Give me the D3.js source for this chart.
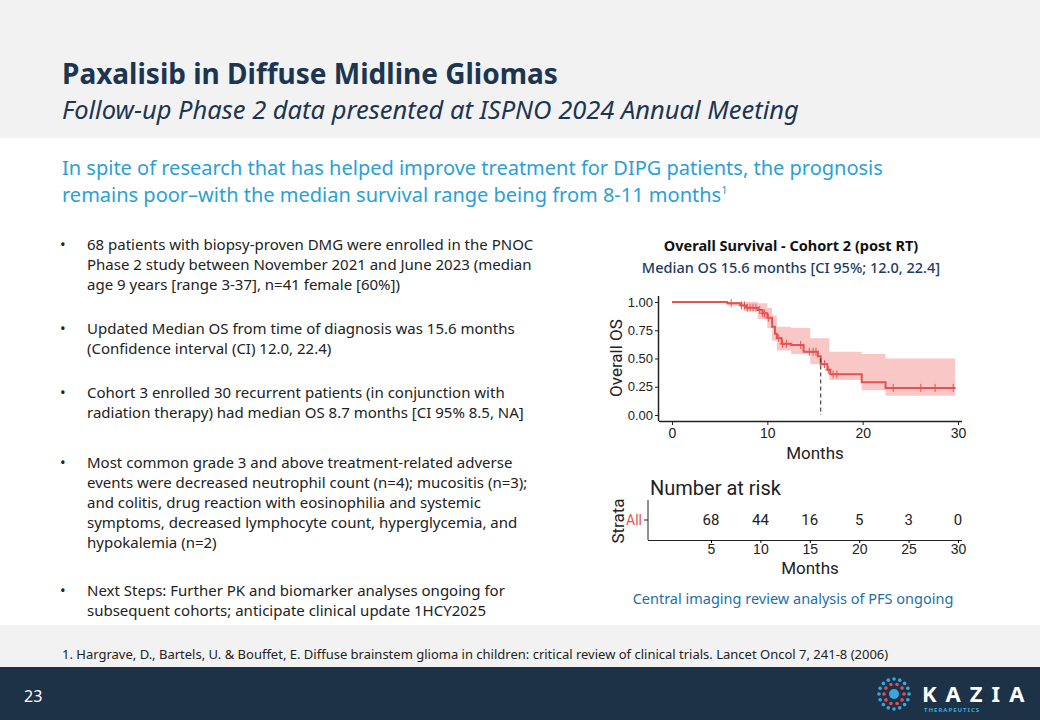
<!DOCTYPE html>
<html><head><meta charset="UTF-8">
<script src="https://d3js.org/d3.v7.min.js"></script>
<style>
body{margin:0;background:#fff;font-family:'Noto Sans',sans-serif;}
svg{display:block}
</style></head>
<body><svg id="s" width="1040" height="720"></svg>
<script>
// KM step curve (months, survival)
const kmTime=[0,5.8,7.2,7.8,9.0,9.5,10.0,10.5,10.8,11.0,11.5,12.5,13.8,15.3,15.6,16.3,16.6,19.9,22.4,29.7];
const kmSurv=[1,0.99,0.97,0.95,0.93,0.90,0.86,0.78,0.72,0.68,0.63,0.62,0.56,0.52,0.45,0.40,0.36,0.29,0.24,0.24];
const ciTime=[0,5.8,7.5,9.0,10.0,10.5,11.0,12.5,14.5,16.5,19.9,22.4,29.7];
const ciUpper=[1,1,1,0.99,0.95,0.88,0.78,0.77,0.68,0.56,0.54,0.50,0.50];
const ciLower=[1,0.97,0.92,0.85,0.77,0.66,0.57,0.54,0.45,0.31,0.22,0.17,0.11];
const censorTimes=[6.2,7.3,7.6,7.9,8.2,8.5,8.8,9.2,9.5,9.7,10.1,11.2,11.6,12.0,13.5,14.4,14.8,15.1,16.0,16.4,16.9,17.3,23.2,26.1,27.6,29.5];
const riskTimes=[5,10,15,20,25,30];
const riskCounts=[68,44,16,5,3,0];
const medianOS=15.6;

const bullets=[
 ["68 patients with biopsy-proven DMG were enrolled in the PNOC","Phase 2 study between November 2021 and June 2023 (median","age 9 years [range 3-37], n=41 female [60%])"],
 ["Updated Median OS from time of diagnosis was 15.6 months","(Confidence interval (CI) 12.0, 22.4)"],
 ["Cohort 3 enrolled 30 recurrent patients (in conjunction with","radiation therapy) had median OS 8.7 months [CI 95% 8.5, NA]"],
 ["Most common grade 3 and above treatment-related adverse","events were decreased neutrophil count (n=4); mucositis (n=3);","and colitis, drug reaction with eosinophilia and systemic","symptoms, decreased lymphocyte count, hyperglycemia, and","hypokalemia (n=2)"],
 ["Next Steps:  Further PK and biomarker analyses ongoing for","subsequent cohorts; anticipate clinical update 1HCY2025"]];
const bulletY=[250,334,398,468,596];

const svg=d3.select('#s');
const navy='#1c3550', blue='#2aa0d8', red='#e4534f';
svg.append('rect').attr('width',1040).attr('height',138).attr('fill','#f2f2f2');
svg.append('rect').attr('y',625).attr('width',1040).attr('height',42).attr('fill','#f2f2f2');
svg.append('rect').attr('y',667).attr('width',1040).attr('height',53).attr('fill','#1e3247');
svg.append('text').attr('x',62).attr('y',84).attr('font-size',28).attr('font-weight','bold').attr('fill',navy).text('Paxalisib in Diffuse Midline Gliomas');
svg.append('text').attr('x',62).attr('y',119).attr('font-size',25.5).attr('font-style','italic').attr('fill',navy).text('Follow-up Phase 2 data presented at ISPNO 2024 Annual Meeting');
svg.append('text').attr('x',62).attr('y',175).attr('font-size',20).attr('fill',blue).text('In spite of research that has helped improve treatment for DIPG patients, the prognosis');
const l2=svg.append('text').attr('x',62).attr('y',202).attr('font-size',20).attr('fill',blue).text('remains poor\u2013with the median survival range being from 8-11 months');
l2.append('tspan').attr('font-size',11).attr('dy',-8).text('1');

bullets.forEach((b,i)=>{
  svg.append('text').attr('x',60).attr('y',bulletY[i]).attr('font-size',15).attr('fill','#222').text('\u2022');
  b.forEach((ln,j)=>svg.append('text').attr('x',87).attr('y',bulletY[i]+j*20).attr('font-size',15).attr('fill','#222').text(ln));
});
svg.append('text').attr('x',62).attr('y',659).attr('font-size',13).attr('fill','#222').text('1. Hargrave, D., Bartels, U. & Bouffet, E. Diffuse brainstem glioma in children: critical review of clinical trials. Lancet Oncol 7, 241-8 (2006)');
svg.append('text').attr('x',24).attr('y',702).attr('font-size',16).attr('fill','#fff').text('23');

// logo
const lg=svg.append('g').attr('transform','translate(894,694)');
[[5,'#3ba7dd',0],[10,'#e04e5a',10],[15,'#3ba7dd',16]].forEach(([r,c,n])=>{
  if(n===0){lg.append('circle').attr('r',5).attr('fill',c);return;}
  d3.range(n).forEach(k=>{const a=k/n*2*Math.PI;lg.append('circle').attr('cx',r*Math.cos(a)).attr('cy',r*Math.sin(a)).attr('r',1.8).attr('fill',c);});
});
svg.append('text').attr('x',922).attr('y',702).attr('font-size',22).attr('font-weight','bold').attr('fill','#fff').attr('letter-spacing',9).text('KAZIA');
svg.append('text').attr('x',924).attr('y',712).attr('font-size',6).attr('font-weight','bold').attr('fill','#3ba7dd').attr('letter-spacing',1).text('THERAPEUTICS');

// chart titles
svg.append('text').attr('x',791).attr('y',251).attr('text-anchor','middle').attr('font-size',14.5).attr('font-weight','bold').attr('fill','#111').text('Overall Survival - Cohort 2 (post RT)');
svg.append('text').attr('x',791).attr('y',273).attr('text-anchor','middle').attr('font-size',14.5).attr('font-weight',500).attr('fill','#1d3a66').text('Median OS 15.6 months [CI 95%; 12.0, 22.4]');
svg.append('text').attr('x',793).attr('y',604).attr('text-anchor','middle').attr('font-size',14.5).attr('fill','#1d6fa8').text('Central imaging review analysis of PFS ongoing');

// KM plot
const ff='Roboto, "Liberation Sans Narrow", sans-serif';
const x=d3.scaleLinear().domain([0,30]).range([672,958]);
const y=d3.scaleLinear().domain([0,1]).range([415,302]);
const g=svg.append('g').attr('font-family',ff);
const area=d3.area().curve(d3.curveStepAfter).x((d,i)=>x(ciTime[i])).y0((d,i)=>y(ciLower[i])).y1((d,i)=>y(ciUpper[i]));
g.append('path').attr('d',area(ciTime)).attr('fill','#f9c7c6');
const line=d3.line().curve(d3.curveStepAfter).x((d,i)=>x(kmTime[i])).y((d,i)=>y(kmSurv[i]));
g.append('path').attr('d',line(kmTime)).attr('fill','none').attr('stroke',red).attr('stroke-width',2);
function survAt(t){let s=1;kmTime.forEach((tt,i)=>{if(tt<=t)s=kmSurv[i];});return s;}
g.selectAll('.c').data(censorTimes).join('path').attr('d',t=>`M${x(t)-3},${y(survAt(t))}h6M${x(t)},${y(survAt(t))-4}v8`).attr('stroke',red).attr('stroke-width',1);
g.append('line').attr('x1',x(medianOS)).attr('x2',x(medianOS)).attr('y1',y(0.5)).attr('y2',y(0)).attr('stroke','#222').attr('stroke-dasharray','4,3');
const ya=g.append('g').attr('transform','translate(659,0)').call(d3.axisLeft(y).tickValues([0,0.25,0.5,0.75,1]).tickFormat(d3.format('.2f')).tickSize(4).tickPadding(2));
const xa=g.append('g').attr('transform','translate(0,421)').call(d3.axisBottom(x).tickValues([0,10,20,30]).tickSize(4));
[ya,xa].forEach(a=>{a.selectAll('text').attr('font-size',14).attr('fill','#222');a.select('.domain').attr('stroke','#222').attr('stroke-width',1.5);a.selectAll('.tick line').attr('stroke','#222');});
ya.selectAll('text').attr('font-size',13);
xa.select('.domain').attr('d','M659,0.5H962');ya.select('.domain').attr('d','M-0.5,296V421');
g.append('text').attr('transform','translate(622,358) rotate(-90)').attr('text-anchor','middle').attr('font-size',17).attr('fill','#222').text('Overall OS');
g.append('text').attr('x',815).attr('y',459).attr('text-anchor','middle').attr('font-size',17).attr('fill','#222').text('Months');

// risk table
const xr=d3.scaleLinear().domain([0,30]).range([661.6,958]);
g.append('text').attr('x',650).attr('y',495).attr('font-size',20).attr('fill','#222').text('Number at risk');
g.selectAll('.r').data(riskTimes).join('text').attr('x',(d)=>xr(d)).attr('y',525).attr('text-anchor','middle').attr('font-size',15).attr('fill','#222').text((d,i)=>riskCounts[i]);
const xra=g.append('g').attr('transform','translate(0,540)').call(d3.axisBottom(xr).tickValues(riskTimes).tickSize(3).tickPadding(1));
xra.selectAll('text').attr('font-size',14).attr('fill','#222');
xra.select('.domain').attr('d','M648,0.5H962').attr('stroke','#222');
g.append('line').attr('x1',648).attr('x2',648).attr('y1',500).attr('y2',540).attr('stroke','#222');
g.append('line').attr('x1',644).attr('x2',648).attr('y1',520).attr('y2',520).attr('stroke','#222');
g.append('text').attr('x',642).attr('y',525).attr('text-anchor','end').attr('font-size',14).attr('fill',red).text('All');
g.append('text').attr('transform','translate(624,521) rotate(-90)').attr('text-anchor','middle').attr('font-size',17).attr('fill','#222').text('Strata');
g.append('text').attr('x',810).attr('y',574).attr('text-anchor','middle').attr('font-size',17).attr('fill','#222').text('Months');
</script></body></html>
